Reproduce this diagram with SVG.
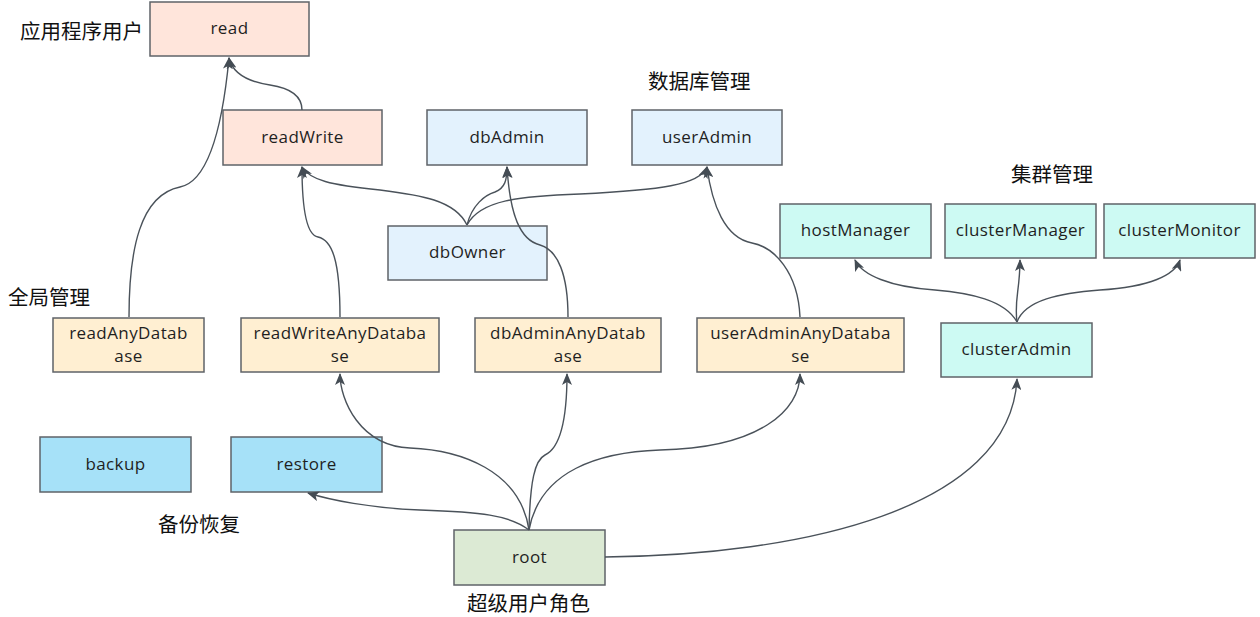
<svg xmlns="http://www.w3.org/2000/svg" width="1260" height="617" viewBox="0 0 1260 617">
<defs>
<marker id="ah" viewBox="0 0 12 10" refX="11" refY="5" markerWidth="12" markerHeight="10" markerUnits="userSpaceOnUse" orient="auto">
<path d="M0,0 L12,5 L0,10 L3,5 z" fill="#444c54"/>
</marker>
<style>
.n rect{stroke:#5f6368;stroke-width:1.5}
.n text{font-family:"Open Sans","Noto Sans",sans-serif;font-size:17px;letter-spacing:0.4px;fill:#1f1f1f;text-anchor:middle}
.app{fill:#ffe5db}
.db{fill:#e3f2fd}
.cl{fill:#cdfaf3}
.any{fill:#ffefd2}
.bk{fill:#a6e1f8}
.rt{fill:#dcead4}
.lbl{font-family:"Noto Sans CJK SC","Noto Sans",sans-serif;font-size:20.5px;fill:#111}
#edges path{fill:none;stroke:#4a525a;stroke-width:1.4;marker-end:url(#ah)}
</style>
</defs>
<rect width="1260" height="617" fill="#ffffff"/>
<g id="read" class="n"><rect class="app" x="150" y="2" width="159" height="54"/><text x="229.5" y="34">read</text></g>
<g id="readWrite" class="n"><rect class="app" x="223" y="110" width="159" height="55"/><text x="302.5" y="143">readWrite</text></g>
<g id="dbAdmin" class="n"><rect class="db" x="427" y="110" width="160" height="55"/><text x="507" y="143">dbAdmin</text></g>
<g id="userAdmin" class="n"><rect class="db" x="632" y="110" width="150" height="55"/><text x="707" y="143">userAdmin</text></g>
<g id="dbOwner" class="n"><rect class="db" x="388" y="226" width="159" height="54"/><text x="467.5" y="258">dbOwner</text></g>
<g id="hostManager" class="n"><rect class="cl" x="780" y="204" width="151" height="54"/><text x="855.5" y="236">hostManager</text></g>
<g id="clusterManager" class="n"><rect class="cl" x="945" y="204" width="151" height="54"/><text x="1020.5" y="236">clusterManager</text></g>
<g id="clusterMonitor" class="n"><rect class="cl" x="1104" y="204" width="151" height="54"/><text x="1179.5" y="236">clusterMonitor</text></g>
<g id="clusterAdmin" class="n"><rect class="cl" x="941" y="323" width="151" height="54"/><text x="1016.5" y="355">clusterAdmin</text></g>
<g id="readAnyDatabase" class="n"><rect class="any" x="53" y="318" width="151" height="54"/><text x="128.5" y="339">readAnyDatab</text><text x="128.5" y="362">ase</text></g>
<g id="readWriteAnyDatabase" class="n"><rect class="any" x="241" y="318" width="198" height="54"/><text x="340" y="339">readWriteAnyDataba</text><text x="340" y="362">se</text></g>
<g id="dbAdminAnyDatabase" class="n"><rect class="any" x="475" y="318" width="186" height="54"/><text x="568" y="339">dbAdminAnyDatab</text><text x="568" y="362">ase</text></g>
<g id="userAdminAnyDatabase" class="n"><rect class="any" x="697" y="318" width="207" height="54"/><text x="800.5" y="339">userAdminAnyDataba</text><text x="800.5" y="362">se</text></g>
<g id="backup" class="n"><rect class="bk" x="40" y="437" width="151" height="55"/><text x="115.5" y="470">backup</text></g>
<g id="restore" class="n"><rect class="bk" x="231" y="437" width="151" height="55"/><text x="306.5" y="470">restore</text></g>
<g id="root" class="n"><rect class="rt" x="454" y="530" width="151" height="55"/><text x="529.5" y="563">root</text></g>
<g id="edges">
<path d="M302,110 C302,95 290,88 270,85 C250,82 233,75 229,58"/>
<path d="M129,317 C129,250 140,195 180,187 C215,180 225,100 229,58"/>
<path d="M340,317 C340,260 332,240 318,237 C305,235 302,200 302,167"/>
<path d="M467,225 C455,200 420,195 380,190 C330,185 310,180 302,167"/>
<path d="M467,225 C472,205 485,195 495,192 C505,188 507,180 507,167"/>
<path d="M467,225 C480,200 520,196 580,194 C660,190 700,185 707,167"/>
<path d="M568,317 C568,275 558,250 540,245 C520,240 510,215 507,167"/>
<path d="M800,317 C798,272 774,247 752,243 C725,238 712,205 707,167"/>
<path d="M1017,322 C1005,300 970,293 935,290 C890,287 862,275 855,260"/>
<path d="M1017,322 C1014,300 1020,290 1020,260"/>
<path d="M1017,322 C1025,300 1060,293 1100,290 C1150,287 1175,275 1180,260"/>
<path d="M529,530 C520,470 460,450 410,448 C360,446 340,400 340,374"/>
<path d="M529,530 C530,480 535,460 545,455 C560,448 567,420 567,374"/>
<path d="M529,530 C540,470 600,452 660,450 C760,448 800,410 800,374"/>
<path d="M529,530 C510,515 480,512 420,510 C370,508 330,500 308,493"/>
<path d="M605,557 C800,555 1010,510 1017,379"/>
</g>
<g id="labels">
<text class="lbl" x="20" y="39">应用程序用户</text>
<text class="lbl" x="648" y="89">数据库管理</text>
<text class="lbl" x="1011" y="182">集群管理</text>
<text class="lbl" x="8" y="305">全局管理</text>
<text class="lbl" x="158" y="532">备份恢复</text>
<text class="lbl" x="467" y="611">超级用户角色</text>
</g>
</svg>
